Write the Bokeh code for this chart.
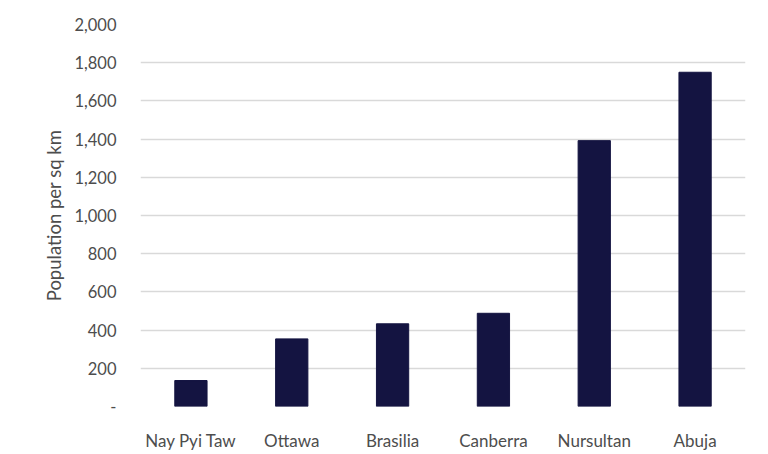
from bokeh.plotting import figure
from bokeh.models import ColumnDataSource, NumeralTickFormatter, FixedTicker
from bokeh.embed import file_html
from bokeh.resources import INLINE

cities = ["Nay Pyi Taw", "Ottawa", "Brasilia", "Canberra", "Nursultan", "Abuja"]
density = [136, 354, 433, 488, 1392, 1750]
y_ticks = [0, 200, 400, 600, 800, 1000, 1200, 1400, 1600, 1800, 2000]

src = ColumnDataSource(dict(city=cities, density=density))

FONT = "Lato"
TXT = "#4d4d4d"

p = figure(x_range=cities, y_range=(0, 2000), width=768, height=454,
           output_backend="svg", toolbar_location=None,
           min_border_left=140, min_border_right=23, min_border_top=24, min_border_bottom=48)
p.vbar(x="city", top="density", width=0.32, source=src, color="#141441")

p.outline_line_color = None
p.xgrid.grid_line_color = None
p.ygrid.grid_line_color = "#d9d9d9"
p.ygrid.grid_line_width = 1.5
p.yaxis.ticker = FixedTicker(ticks=y_ticks)
p.yaxis.formatter = NumeralTickFormatter(format="0,0")
p.yaxis.major_label_overrides = {0: "-"}

for ax in (p.xaxis[0], p.yaxis[0]):
    ax.axis_line_color = None
    ax.major_tick_line_color = None
    ax.minor_tick_line_color = None
    ax.major_label_text_font = FONT
    ax.major_label_text_color = TXT

p.xaxis.major_label_text_font_size = "17px"
p.yaxis.major_label_text_font_size = "16.5px"
p.yaxis.major_label_standoff = 18
p.xaxis.major_label_standoff = 17
p.yaxis.axis_label = "Population per sq km"
p.yaxis.axis_label_text_font = FONT
p.yaxis.axis_label_text_font_style = "normal"
p.yaxis.axis_label_text_color = TXT
p.yaxis.axis_label_text_font_size = "18.5px"
p.yaxis.axis_label_standoff = 6

open("out.html", "w").write(file_html(p, INLINE))
